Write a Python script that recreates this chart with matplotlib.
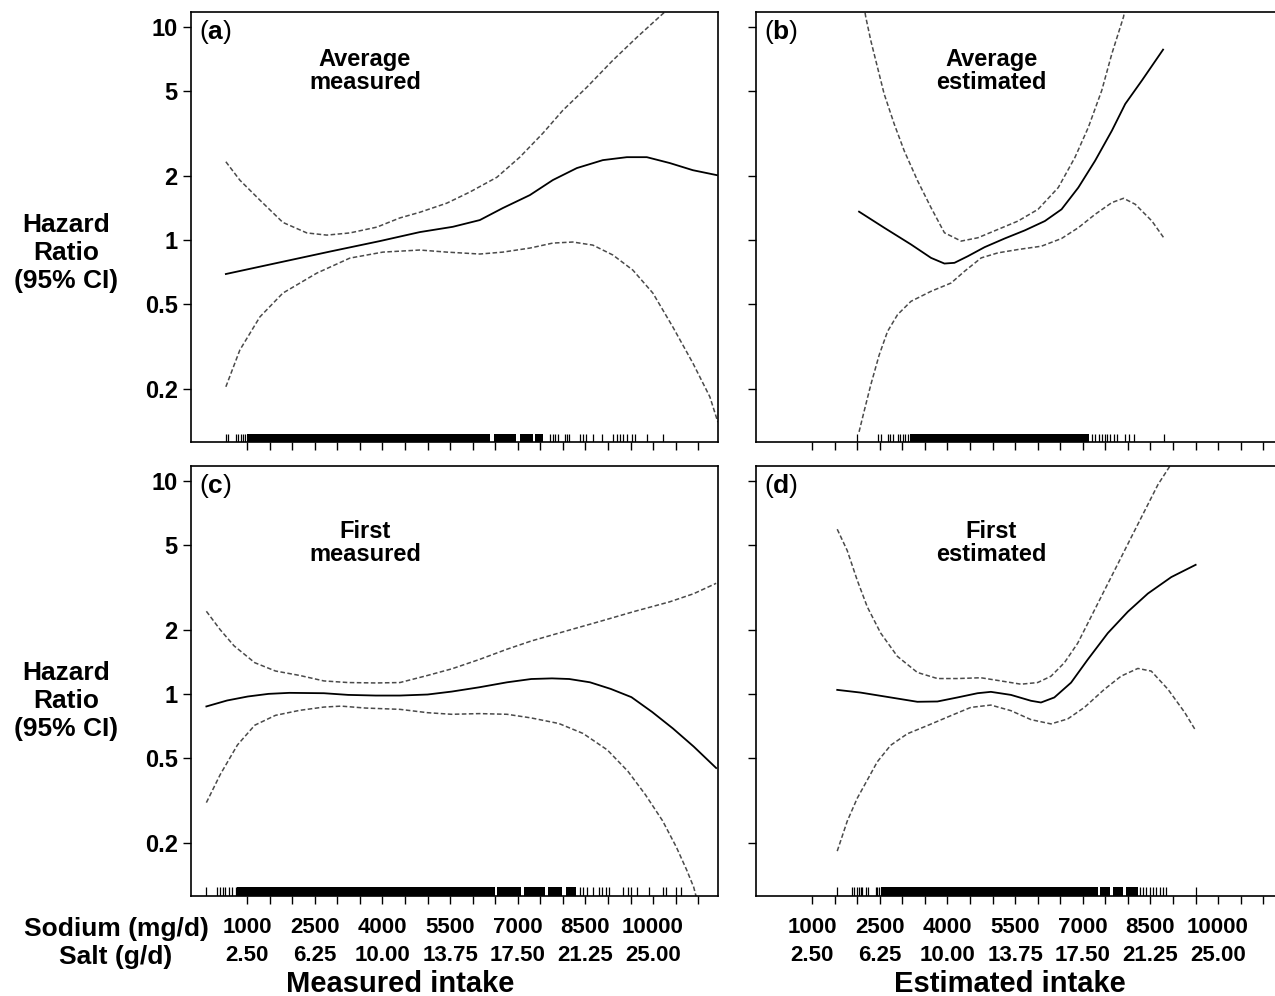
import matplotlib
matplotlib.use("Agg")
import matplotlib.pyplot as plt
from matplotlib.ticker import NullLocator

plt.rcParams['font.family'] = ['Liberation Sans', 'DejaVu Sans']
plt.rcParams['mathtext.fontset'] = 'custom'
plt.rcParams['mathtext.rm'] = 'Liberation Sans'
plt.rcParams['mathtext.bf'] = 'Liberation Sans:bold'

# ---- values: sodium (mg/d) vs hazard ratio ----
# (a) average measured
a_est_x = [528, 1725, 2833, 3942, 4829, 5560, 6159, 6669, 7268, 7778, 8310, 8886, 9419, 9862, 10372, 10882, 11415]
a_est_y = [0.693, 0.786, 0.883, 0.989, 1.090, 1.154, 1.241, 1.413, 1.625, 1.912, 2.176, 2.371, 2.448, 2.448, 2.297, 2.127, 2.016]
a_hi_x = [528, 838, 1282, 1792, 2324, 2767, 3277, 3876, 4386, 4829, 5428, 5938, 6537, 7047, 7557, 8000, 8532, 9109, 9641, 10262, 10816]
a_hi_y = [2.33, 1.91, 1.54, 1.21, 1.08, 1.055, 1.08, 1.15, 1.27, 1.35, 1.49, 1.68, 1.97, 2.45, 3.17, 4.06, 5.21, 6.97, 8.93, 11.76, 15.7]
a_lo_x = [528, 838, 1282, 1792, 2546, 3277, 4009, 4829, 5428, 6159, 6669, 7268, 7778, 8221, 8665, 9109, 9552, 9996, 10439, 10882, 11259, 11437]
a_lo_y = [0.205, 0.305, 0.436, 0.564, 0.700, 0.823, 0.878, 0.898, 0.878, 0.860, 0.878, 0.917, 0.968, 0.979, 0.947, 0.851, 0.723, 0.564, 0.391, 0.265, 0.184, 0.140]

# (b) average estimated
b_est_x = [2040, 2596, 3191, 3636, 3933, 4155, 4452, 4823, 5268, 5714, 6160, 6530, 6902, 7273, 7645, 7942, 8313, 8781]
b_est_y = [1.359, 1.143, 0.954, 0.825, 0.776, 0.782, 0.840, 0.926, 1.017, 1.110, 1.228, 1.394, 1.763, 2.354, 3.257, 4.35, 5.61, 7.82]
b_hi_x = [2111, 2188, 2299, 2448, 2596, 2820, 3042, 3339, 3636, 3933, 4304, 4674, 5120, 5565, 6009, 6457, 6827, 7124, 7421, 7645, 7904, 7986]
b_hi_y = [14.0, 11.14, 8.65, 6.47, 4.85, 3.50, 2.62, 1.895, 1.419, 1.082, 0.989, 1.025, 1.122, 1.228, 1.394, 1.763, 2.442, 3.38, 5.03, 7.48, 11.14, 14.0]
b_lo_x = [2040, 2151, 2299, 2486, 2672, 2894, 3191, 3636, 4082, 4379, 4749, 5120, 5565, 6084, 6530, 6902, 7273, 7645, 7904, 8164, 8534, 8796]
b_lo_y = [0.126, 0.157, 0.209, 0.289, 0.373, 0.447, 0.516, 0.575, 0.629, 0.714, 0.825, 0.871, 0.903, 0.936, 1.017, 1.143, 1.320, 1.499, 1.570, 1.472, 1.228, 1.025]

# (c) first measured
c_est_x = [96, 556, 1015, 1475, 1935, 2701, 3238, 3851, 4387, 5000, 5536, 6150, 6763, 7299, 7759, 8142, 8602, 9061, 9521, 9981, 10441, 10901, 11399]
c_est_y = [0.873, 0.931, 0.972, 1.0, 1.011, 1.007, 0.989, 0.982, 0.982, 0.993, 1.025, 1.074, 1.133, 1.174, 1.182, 1.174, 1.133, 1.055, 0.965, 0.822, 0.688, 0.566, 0.449]
c_hi_x = [96, 402, 709, 1169, 1628, 2165, 2701, 3238, 3851, 4387, 5000, 5536, 6150, 6763, 7299, 8065, 8832, 9598, 10364, 10901, 11399]
c_hi_y = [2.44, 2.00, 1.68, 1.40, 1.28, 1.22, 1.15, 1.13, 1.125, 1.13, 1.22, 1.31, 1.45, 1.62, 1.77, 1.97, 2.19, 2.44, 2.70, 2.95, 3.30]
c_lo_x = [96, 402, 785, 1169, 1628, 2165, 2701, 3084, 3621, 4387, 5000, 5536, 6150, 6763, 7299, 7912, 8448, 8985, 9444, 9828, 10211, 10517, 10747, 10901, 10990]
c_lo_y = [0.309, 0.418, 0.576, 0.713, 0.793, 0.837, 0.867, 0.876, 0.858, 0.846, 0.816, 0.802, 0.808, 0.802, 0.771, 0.726, 0.652, 0.546, 0.433, 0.337, 0.254, 0.191, 0.149, 0.124, 0.105]

# (d) first estimated
d_est_x = [1556, 2074, 2741, 3333, 3778, 4222, 4667, 4963, 5407, 5852, 6074, 6370, 6741, 7111, 7555, 8000, 8444, 8963, 9503]
d_est_y = [1.044, 1.014, 0.962, 0.918, 0.921, 0.962, 1.007, 1.022, 0.989, 0.928, 0.911, 0.962, 1.129, 1.449, 1.927, 2.429, 2.955, 3.53, 4.03]
d_hi_x = [1556, 1778, 2000, 2222, 2518, 2889, 3333, 3778, 4222, 4741, 5185, 5630, 6000, 6296, 6593, 6889, 7185, 7481, 7778, 8074, 8370, 8667, 8926, 9000]
d_hi_y = [5.92, 4.70, 3.41, 2.56, 1.93, 1.50, 1.26, 1.18, 1.18, 1.19, 1.15, 1.11, 1.13, 1.21, 1.40, 1.73, 2.30, 3.06, 4.07, 5.42, 7.20, 9.58, 11.65, 12.5]
d_lo_x = [1556, 1778, 2000, 2222, 2444, 2741, 3111, 3555, 4074, 4518, 4963, 5407, 5852, 6296, 6667, 7037, 7481, 7852, 8222, 8518, 8889, 9259, 9503]
d_lo_y = [0.183, 0.253, 0.324, 0.394, 0.480, 0.574, 0.650, 0.710, 0.790, 0.864, 0.886, 0.834, 0.757, 0.723, 0.763, 0.864, 1.051, 1.212, 1.316, 1.279, 1.051, 0.819, 0.673]

# rug: single observations and stretches too dense to separate (start, end)
rug_a_ticks = [521, 565, 743, 800, 860, 911, 949, 7712, 7772, 7829, 7896, 8044, 8095, 8140, 8377, 8450,
               8510, 8672, 8858, 9115, 9191, 9264, 9337, 9412, 9523, 9596, 9856, 10211]
rug_a_dense = [(987, 6390), (6480, 6970), (7050, 7340), (7380, 7560)]
rug_b_ticks = [1988, 2464, 2523, 2687, 2731, 2783, 2895, 2947, 3006, 3058, 3118, 7204, 7279, 7353, 7427,
               7486, 7538, 7613, 7687, 7761, 7947, 8021, 8133, 8802]
rug_b_dense = [(3177, 7130)]
rug_c_ticks = [96, 326, 402, 464, 517, 594, 670, 747, 8372, 8448, 8525, 8678, 8793, 8870, 8947, 9023, 9330,
               9445, 9521, 9636, 9904, 10211, 10288, 10517, 10609]
rug_c_dense = [(785, 6490), (6540, 7080), (7140, 7600), (7660, 7990), (8060, 8300)]
rug_d_ticks = [1556, 1889, 1926, 1985, 2037, 2074, 2111, 2185, 2237, 2407, 2444, 2481, 8259, 8333, 8407,
               8481, 8555, 8629, 8703, 8777, 8852, 9503]
rug_d_dense = [(2533, 7330), (7380, 7600), (7660, 7900), (7960, 8220)]

sodium_ticks = list(range(1000, 11001, 500))
sodium_labels = [1000, 2500, 4000, 5500, 7000, 8500, 10000]
salt_labels = ['2.50', '6.25', '10.00', '13.75', '17.50', '21.25', '25.00']
hr_ticks = [0.2, 0.5, 1, 2, 5, 10]
hr_labels = ['0.2', '0.5', '1', '2', '5', '10']

XLIM = (-245, 11440)
YLIM = (0.1133, 11.78)
RUG_H = 0.019
NARROW = ['Liberation Sans Narrow', 'Liberation Sans', 'DejaVu Sans']

W, H = 1275, 996
fig = plt.figure(figsize=(W / 100, H / 100), dpi=100)


def add_panel(left, top, width=527, height=430):
    return fig.add_axes([left / W, 1 - (top + height) / H, width / W, height / H])


def draw_panel(ax, tag, title, tpos, est, hi, lo, rug_ticks, rug_dense, left_labels, bottom_labels):
    ax.set_yscale('log')
    ax.set_xlim(*XLIM)
    ax.set_ylim(*YLIM)

    ci_style = dict(color='#4a4a4a', lw=1.1, ls=(0, (3, 1.6)))
    ax.plot(*hi, **ci_style)
    ax.plot(*lo, **ci_style)
    ax.plot(*est, color='black', lw=1.3)

    trans = ax.get_xaxis_transform()
    ax.vlines(rug_ticks, 0, RUG_H, transform=trans, color='black', lw=0.9)
    for s, e in rug_dense:
        ax.axvspan(s, e, 0, RUG_H, color='black', lw=0)

    ax.set_yticks(hr_ticks)
    ax.yaxis.set_minor_locator(NullLocator())
    ax.set_xticks(sodium_ticks)
    ax.tick_params(direction='out', length=6, width=1.0, labelbottom=False, labelleft=left_labels)
    if left_labels:
        ax.set_yticklabels(hr_labels, fontsize=17, fontweight='bold')
    for sp in ax.spines.values():
        sp.set_linewidth(1.2)

    ax.text(0.016, 0.986, r'($\mathbf{' + tag + '}$)', transform=ax.transAxes,
            ha='left', va='top', fontsize=19)
    ax.text(tpos[0], tpos[1], title, transform=ax.transAxes, ha='center', va='center',
            fontsize=17, fontweight='bold', linespacing=1.0)

    if bottom_labels:
        for s, g in zip(sodium_labels, salt_labels):
            ax.text(s, -0.074, str(s), transform=trans, ha='center', va='center',
                    fontsize=16, fontweight='bold', family=NARROW)
            ax.text(s, -0.139, g, transform=trans, ha='center', va='center',
                    fontsize=16, fontweight='bold', family=NARROW)


ax_a = add_panel(191, 11.7)
ax_b = add_panel(756, 11.7)
ax_c = add_panel(191, 465.5)
ax_d = add_panel(756, 465.5)

draw_panel(ax_a, 'a', 'Average\nmeasured', (0.33, 0.862), (a_est_x, a_est_y), (a_hi_x, a_hi_y),
           (a_lo_x, a_lo_y), rug_a_ticks, rug_a_dense, True, False)
draw_panel(ax_b, 'b', 'Average\nestimated', (0.446, 0.862), (b_est_x, b_est_y), (b_hi_x, b_hi_y),
           (b_lo_x, b_lo_y), rug_b_ticks, rug_b_dense, False, False)
draw_panel(ax_c, 'c', 'First\nmeasured', (0.33, 0.82), (c_est_x, c_est_y), (c_hi_x, c_hi_y),
           (c_lo_x, c_lo_y), rug_c_ticks, rug_c_dense, True, True)
draw_panel(ax_d, 'd', 'First\nestimated', (0.446, 0.82), (d_est_x, d_est_y), (d_hi_x, d_hi_y),
           (d_lo_x, d_lo_y), rug_d_ticks, rug_d_dense, False, True)

for yc in (253, 701):
    fig.text(66 / W, 1 - yc / H, 'Hazard\nRatio\n(95% CI)', ha='center', va='center',
             fontsize=19, fontweight='bold', linespacing=1.2)

fig.text(116 / W, 1 - 929 / H, 'Sodium (mg/d)', ha='center', va='center', fontsize=19, fontweight='bold')
fig.text(116 / W, 1 - 957 / H, 'Salt (g/d)', ha='center', va='center', fontsize=19, fontweight='bold')
fig.text(400 / W, 1 - 984 / H, 'Measured intake', ha='center', va='center', fontsize=21, fontweight='bold')
fig.text(1010 / W, 1 - 984 / H, 'Estimated intake', ha='center', va='center', fontsize=21, fontweight='bold')

fig.savefig('out.png', dpi=100)
